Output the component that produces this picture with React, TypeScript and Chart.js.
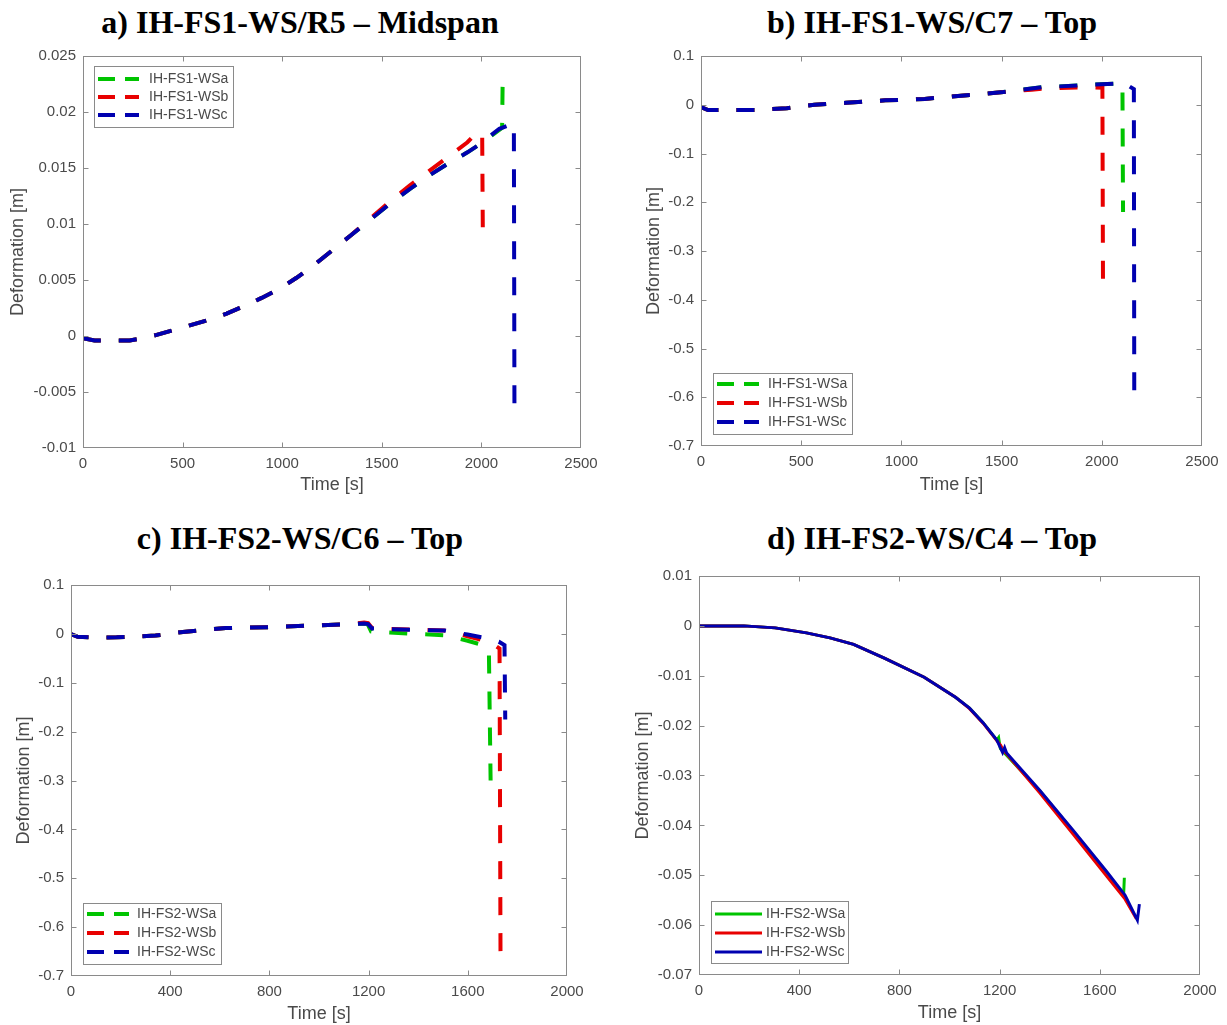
import React, { useEffect, useRef } from "react";
import { Chart, registerables } from "chart.js";
Chart.register(...registerables);

// ---------- Panel a) IH-FS1-WS/R5 – Midspan ----------
const aTimeWSa = [0, 58, 234, 300, 370, 449, 507, 624, 721, 800, 897, 995, 1072, 1150, 1248, 1345, 1443, 1540, 1638, 1735, 1833, 1930, 1990, 2090, 2104, 2107];
const aDefWSa = [-0.0002, -0.0004, -0.0004, -0.0002, 0.0001, 0.0005, 0.0008, 0.0014, 0.002, 0.0026, 0.0034, 0.0043, 0.0052, 0.0062, 0.0076, 0.009, 0.0104, 0.0118, 0.0131, 0.0143, 0.0154, 0.0164, 0.0171, 0.0184, 0.0186, 0.0232];
const aTimeWSb = [0, 58, 234, 300, 370, 449, 507, 624, 721, 800, 897, 995, 1072, 1150, 1248, 1345, 1443, 1540, 1638, 1735, 1833, 1930, 1983, 2004, 2007];
const aDefWSb = [-0.0002, -0.0004, -0.0004, -0.0002, 0.0001, 0.0005, 0.0008, 0.0014, 0.002, 0.0026, 0.0034, 0.0043, 0.0052, 0.0062, 0.0076, 0.009, 0.0105, 0.012, 0.0134, 0.0147, 0.016, 0.0173, 0.0183, 0.0178, 0.0097];
const aTimeWSc = [0, 58, 234, 300, 370, 449, 507, 624, 721, 800, 897, 995, 1072, 1150, 1248, 1345, 1443, 1540, 1638, 1735, 1833, 1930, 1990, 2090, 2163, 2166];
const aDefWSc = [-0.0002, -0.0004, -0.0004, -0.0002, 0.0001, 0.0005, 0.0008, 0.0014, 0.002, 0.0026, 0.0034, 0.0043, 0.0052, 0.0062, 0.0076, 0.009, 0.0104, 0.0118, 0.0131, 0.0143, 0.0154, 0.0164, 0.0171, 0.0185, 0.019, -0.0075];
const aXTicks = [0, 500, 1000, 1500, 2000, 2500];
const aYTicks = [-0.01, -0.005, 0, 0.005, 0.01, 0.015, 0.02, 0.025];

// ---------- Panel b) IH-FS1-WS/C7 – Top ----------
const bTimeWSa = [0, 35, 271, 428, 566, 723, 919, 1116, 1312, 1509, 1705, 1902, 2098, 2103, 2106];
const bDefWSa = [-0.005, -0.011, -0.011, -0.007, 0.0, 0.004, 0.009, 0.012, 0.019, 0.026, 0.036, 0.04, 0.044, 0.043, -0.22];
const bTimeWSb = [0, 35, 271, 428, 566, 723, 919, 1116, 1312, 1509, 1650, 1705, 1930, 2003, 2006];
const bDefWSb = [-0.005, -0.011, -0.011, -0.007, 0.0, 0.004, 0.009, 0.012, 0.019, 0.026, 0.031, 0.033, 0.036, 0.035, -0.375];
const bTimeWSc = [0, 35, 271, 428, 566, 723, 919, 1116, 1312, 1509, 1705, 1902, 2098, 2106, 2160, 2162];
const bDefWSc = [-0.005, -0.011, -0.011, -0.007, 0.0, 0.004, 0.009, 0.012, 0.019, 0.026, 0.036, 0.04, 0.044, 0.046, 0.032, -0.598];
const bXTicks = [0, 500, 1000, 1500, 2000, 2500];
const bYTicks = [-0.7, -0.6, -0.5, -0.4, -0.3, -0.2, -0.1, 0, 0.1];

// ---------- Panel c) IH-FS2-WS/C6 – Top ----------
const cTimeWSa = [0, 27, 90, 184, 341, 451, 530, 624, 813, 970, 1127, 1182, 1196, 1210, 1285, 1363, 1505, 1599, 1662, 1685, 1692];
const cDefWSa = [-0.0007, -0.006, -0.0075, -0.007, -0.0034, 0.004, 0.0075, 0.012, 0.014, 0.017, 0.02, 0.021, 0.02, 0.005, 0.003, 0.0007, -0.003, -0.014, -0.023, -0.034, -0.3];
const cTimeWSb = [0, 27, 90, 184, 341, 451, 530, 624, 813, 970, 1127, 1182, 1198, 1214, 1285, 1442, 1505, 1599, 1662, 1700, 1728, 1732];
const cDefWSb = [-0.0007, -0.006, -0.0075, -0.007, -0.0034, 0.004, 0.0075, 0.012, 0.014, 0.017, 0.02, 0.023, 0.022, 0.012, 0.01, 0.0078, 0.007, -0.005, -0.013, -0.02, -0.03, -0.673];
const cTimeWSc = [0, 27, 90, 184, 341, 451, 530, 624, 813, 970, 1127, 1182, 1198, 1214, 1285, 1442, 1505, 1599, 1662, 1725, 1748, 1751];
const cDefWSc = [-0.0007, -0.006, -0.0075, -0.007, -0.0034, 0.004, 0.0075, 0.012, 0.014, 0.017, 0.02, 0.021, 0.02, 0.011, 0.0096, 0.0075, 0.0068, -0.0014, -0.0075, -0.016, -0.023, -0.175];
const cXTicks = [0, 400, 800, 1200, 1600, 2000];
const cYTicks = [-0.7, -0.6, -0.5, -0.4, -0.3, -0.2, -0.1, 0, 0.1];

// ---------- Panel d) IH-FS2-WS/C4 – Top ----------
const dTimeWSa = [0, 179, 304, 429, 523, 617, 742, 899, 1024, 1080, 1134, 1189, 1196, 1203, 1361, 1494, 1628, 1695, 1698];
const dDefWSa = [0, 0, -0.0004, -0.0014, -0.0024, -0.0037, -0.0065, -0.0103, -0.0143, -0.0165, -0.0194, -0.0229, -0.0224, -0.0246, -0.0331, -0.0412, -0.0495, -0.054, -0.0505];
const dTimeWSb = [0, 179, 304, 429, 523, 617, 742, 899, 1024, 1080, 1134, 1195, 1205, 1212, 1361, 1494, 1628, 1701, 1746];
const dDefWSb = [0, 0, -0.0004, -0.0014, -0.0024, -0.0037, -0.0065, -0.0103, -0.0143, -0.0166, -0.0195, -0.0234, -0.024, -0.0247, -0.0335, -0.0418, -0.0502, -0.0548, -0.0587];
const dTimeWSc = [0, 179, 304, 429, 523, 617, 742, 899, 1024, 1080, 1134, 1189, 1212, 1220, 1228, 1361, 1494, 1628, 1701, 1750, 1758];
const dDefWSc = [0, 0, -0.0004, -0.0014, -0.0024, -0.0037, -0.0065, -0.0103, -0.0143, -0.0165, -0.0194, -0.0229, -0.0254, -0.0244, -0.0255, -0.033, -0.041, -0.0493, -0.054, -0.059, -0.0558];
const dXTicks = [0, 400, 800, 1200, 1600, 2000];
const dYTicks = [-0.07, -0.06, -0.05, -0.04, -0.03, -0.02, -0.01, 0, 0.01];

const seriesColors = ["#00c400", "#e80000", "#0000b0"];
const fs1Labels = ["IH-FS1-WSa", "IH-FS1-WSb", "IH-FS1-WSc"];
const fs2Labels = ["IH-FS2-WSa", "IH-FS2-WSb", "IH-FS2-WSc"];

const SANS = "'Liberation Sans', Arial, sans-serif";
const SERIF = "'Liberation Serif', 'Times New Roman', serif";
const TEXT_GRAY = "#4a4a4a";
const BOX_GRAY = "#8a8a8a";

type Rect = { x: number; y: number; w: number; h: number };
type Area = { l: number; t: number; r: number; b: number };
type LegendCfg = { x: number; y: number; w: number; h: number; rows: number[]; lineX0: number; lineX1: number; textX: number };
type PanelCfg = {
  title: string;
  titleCx: number;
  titleCy: number;
  canvas: Rect;
  area: Area;
  xTitleY: number;
  yTitleX: number;
  xMin: number;
  xMax: number;
  xTicks: number[];
  yMin: number;
  yMax: number;
  yTicks: number[];
  dashed: boolean;
  labels: string[];
  xs: number[][];
  ys: number[][];
  legend: LegendCfg;
};

const panels: PanelCfg[] = [
  {
    title: "a) IH-FS1-WS/R5 – Midspan",
    titleCx: 300,
    titleCy: 22,
    canvas: { x: 0, y: 40, w: 613, h: 465 },
    area: { l: 83, t: 54, r: 581, b: 448 },
    xTitleY: 485,
    yTitleX: 18,
    xMin: 0, xMax: 2500, xTicks: aXTicks,
    yMin: -0.01, yMax: 0.025, yTicks: aYTicks,
    dashed: true,
    labels: fs1Labels,
    xs: [aTimeWSa, aTimeWSb, aTimeWSc],
    ys: [aDefWSa, aDefWSb, aDefWSc],
    legend: { x: 94, y: 66, w: 139, h: 61, rows: [79, 97, 115], lineX0: 98, lineX1: 139, textX: 149 },
  },
  {
    title: "b) IH-FS1-WS/C7 – Top",
    titleCx: 932,
    titleCy: 22,
    canvas: { x: 613, y: 40, w: 614, h: 465 },
    area: { l: 701, t: 50, r: 1202, b: 446 },
    xTitleY: 485,
    yTitleX: 654,
    xMin: 0, xMax: 2500, xTicks: bXTicks,
    yMin: -0.7, yMax: 0.1, yTicks: bYTicks,
    dashed: true,
    labels: fs1Labels,
    xs: [bTimeWSa, bTimeWSb, bTimeWSc],
    ys: [bDefWSa, bDefWSb, bDefWSc],
    legend: { x: 713, y: 373, w: 139, h: 61, rows: [384, 403, 422], lineX0: 717, lineX1: 759, textX: 768 },
  },
  {
    title: "c) IH-FS2-WS/C6 – Top",
    titleCx: 300,
    titleCy: 538,
    canvas: { x: 0, y: 560, w: 613, h: 465 },
    area: { l: 71, t: 585, r: 567, b: 976 },
    xTitleY: 1014,
    yTitleX: 24,
    xMin: 0, xMax: 2000, xTicks: cXTicks,
    yMin: -0.7, yMax: 0.1, yTicks: cYTicks,
    dashed: true,
    labels: fs2Labels,
    xs: [cTimeWSa, cTimeWSb, cTimeWSc],
    ys: [cDefWSa, cDefWSb, cDefWSc],
    legend: { x: 83, y: 903, w: 138, h: 61, rows: [914, 933, 952], lineX0: 87, lineX1: 129, textX: 137 },
  },
  {
    title: "d) IH-FS2-WS/C4 – Top",
    titleCx: 932,
    titleCy: 538,
    canvas: { x: 613, y: 560, w: 614, h: 465 },
    area: { l: 699, t: 575, r: 1200, b: 975 },
    xTitleY: 1013,
    yTitleX: 643,
    xMin: 0, xMax: 2000, xTicks: dXTicks,
    yMin: -0.07, yMax: 0.01, yTicks: dYTicks,
    dashed: false,
    labels: fs2Labels,
    xs: [dTimeWSa, dTimeWSb, dTimeWSc],
    ys: [dDefWSa, dDefWSb, dDefWSc],
    legend: { x: 711, y: 901, w: 137, h: 62, rows: [914, 933, 952], lineX0: 715, lineX1: 762, textX: 766 },
  },
];

const fmt = (v: number) => String(Math.round(v * 1e6) / 1e6);

function makeDecorPlugin(p: PanelCfg) {
  return {
    id: "matlabDecor",
    afterDatasetsDraw(chart: any) {
      const ctx: CanvasRenderingContext2D = chart.ctx;
      const { left, top, right, bottom } = chart.chartArea;
      ctx.save();
      ctx.strokeStyle = BOX_GRAY;
      ctx.lineWidth = 1;
      ctx.setLineDash([]);
      const L = Math.round(left) + 0.5;
      const T = Math.round(top) + 0.5;
      const R = Math.round(right) - 0.5;
      const B = Math.round(bottom) - 0.5;
      ctx.strokeRect(L, T, R - L, B - T);
      const tl = 5;
      ctx.beginPath();
      for (const t of chart.scales.x.ticks) {
        const px = Math.round(chart.scales.x.getPixelForValue(t.value)) + 0.5;
        if (px <= L + 1 || px >= R - 1) continue;
        ctx.moveTo(px, B);
        ctx.lineTo(px, B - tl);
        ctx.moveTo(px, T);
        ctx.lineTo(px, T + tl);
      }
      for (const t of chart.scales.y.ticks) {
        const py = Math.round(chart.scales.y.getPixelForValue(t.value)) + 0.5;
        if (py <= T + 1 || py >= B - 1) continue;
        ctx.moveTo(L, py);
        ctx.lineTo(L + tl, py);
        ctx.moveTo(R, py);
        ctx.lineTo(R - tl, py);
      }
      ctx.stroke();

      const lg = p.legend;
      const ox = p.canvas.x;
      const oy = p.canvas.y;
      const bx = Math.round(lg.x - ox) + 0.5;
      const by = Math.round(lg.y - oy) + 0.5;
      ctx.fillStyle = "#ffffff";
      ctx.fillRect(bx, by, lg.w, lg.h);
      ctx.strokeStyle = BOX_GRAY;
      ctx.lineWidth = 1;
      ctx.strokeRect(bx, by, lg.w, lg.h);
      ctx.font = `14px ${SANS}`;
      ctx.textBaseline = "middle";
      ctx.textAlign = "left";
      p.labels.forEach((lab, i) => {
        const ry = lg.rows[i] - oy;
        ctx.beginPath();
        ctx.strokeStyle = seriesColors[i];
        ctx.lineCap = "butt";
        if (p.dashed) {
          ctx.lineWidth = 4;
          ctx.setLineDash([17, 10]);
        } else {
          ctx.lineWidth = 3;
          ctx.setLineDash([]);
        }
        ctx.moveTo(lg.lineX0 - ox, ry);
        ctx.lineTo(lg.lineX1 - ox, ry);
        ctx.stroke();
        ctx.setLineDash([]);
        ctx.fillStyle = TEXT_GRAY;
        ctx.fillText(lab, lg.textX - ox, ry + 0.5);
      });
      ctx.restore();
    },
  };
}

function PanelChart({ p }: { p: PanelCfg }) {
  const ref = useRef<HTMLCanvasElement | null>(null);
  useEffect(() => {
    if (!ref.current) return;
    const { canvas, area } = p;
    const tickFont = { family: SANS, size: 15 };
    const titleSize = 18;
    const titleFont = { family: SANS, size: titleSize };
    const lh = titleSize * 1.2;
    const datasets = p.labels.map((lab, i) => ({
      label: lab,
      data: p.xs[i].map((x, k) => ({ x, y: p.ys[i][k] })),
      borderColor: seriesColors[i],
      backgroundColor: seriesColors[i],
      borderWidth: p.dashed ? 4 : 3,
      borderDash: p.dashed ? [18, 18] : [],
      borderCapStyle: "butt" as const,
      borderJoinStyle: "miter" as const,
      pointRadius: 0,
      pointHoverRadius: 0,
      fill: false,
      tension: 0,
      order: 3 - i,
    }));
    const chart = new Chart(ref.current, {
      type: "line",
      data: { datasets },
      options: {
        animation: false,
        responsive: false,
        maintainAspectRatio: false,
        devicePixelRatio: 1,
        events: [],
        layout: {
          padding: {
            left: 0,
            top: area.t - canvas.y,
            right: canvas.x + canvas.w - area.r,
            bottom: 0,
          },
        },
        plugins: {
          legend: { display: false },
          tooltip: { enabled: false },
          title: { display: false },
        },
        scales: {
          x: {
            type: "linear",
            min: p.xMin,
            max: p.xMax,
            afterBuildTicks: (s: any) => {
              s.ticks = p.xTicks.map((v) => ({ value: v }));
            },
            afterFit: (s: any) => {
              s.height = canvas.y + canvas.h - area.b;
            },
            grid: { display: false, drawTicks: false },
            border: { display: false },
            ticks: {
              autoSkip: false,
              maxRotation: 0,
              padding: 7,
              color: TEXT_GRAY,
              font: tickFont,
              callback: (v: any) => fmt(Number(v)),
            },
            title: {
              display: true,
              text: "Time [s]",
              color: TEXT_GRAY,
              font: titleFont,
              padding: { top: 0, bottom: canvas.y + canvas.h - p.xTitleY - lh / 2 },
            },
          },
          y: {
            type: "linear",
            min: p.yMin,
            max: p.yMax,
            afterBuildTicks: (s: any) => {
              s.ticks = p.yTicks.map((v) => ({ value: v }));
            },
            afterFit: (s: any) => {
              s.width = area.l - canvas.x;
            },
            grid: { display: false, drawTicks: false },
            border: { display: false },
            ticks: {
              autoSkip: false,
              padding: 7,
              color: TEXT_GRAY,
              font: tickFont,
              callback: (v: any) => fmt(Number(v)),
            },
            title: {
              display: true,
              text: "Deformation [m]",
              color: TEXT_GRAY,
              font: titleFont,
              padding: { top: p.yTitleX - canvas.x - lh / 2, bottom: 0 },
            },
          },
        },
      } as any,
      plugins: [makeDecorPlugin(p)],
    });
    return () => chart.destroy();
  }, [p]);
  return (
    <canvas
      ref={ref}
      width={p.canvas.w}
      height={p.canvas.h}
      style={{
        position: "absolute",
        left: p.canvas.x,
        top: p.canvas.y,
        width: p.canvas.w,
        height: p.canvas.h,
        display: "block",
      }}
    />
  );
}

export default function App() {
  return (
    <div
      style={{
        position: "absolute",
        left: 0,
        top: 0,
        width: 1227,
        height: 1025,
        background: "#ffffff",
        overflow: "hidden",
      }}
    >
      {panels.map((p) => (
        <div
          key={p.title}
          style={{
            position: "absolute",
            left: p.titleCx - 300,
            top: p.titleCy - 18,
            width: 600,
            textAlign: "center",
            fontFamily: SERIF,
            fontWeight: "bold",
            fontSize: 32,
            lineHeight: "36px",
            color: "#000",
            whiteSpace: "nowrap",
          }}
        >
          {p.title}
        </div>
      ))}
      {panels.map((p) => (
        <PanelChart key={p.title + "-chart"} p={p} />
      ))}
    </div>
  );
}
